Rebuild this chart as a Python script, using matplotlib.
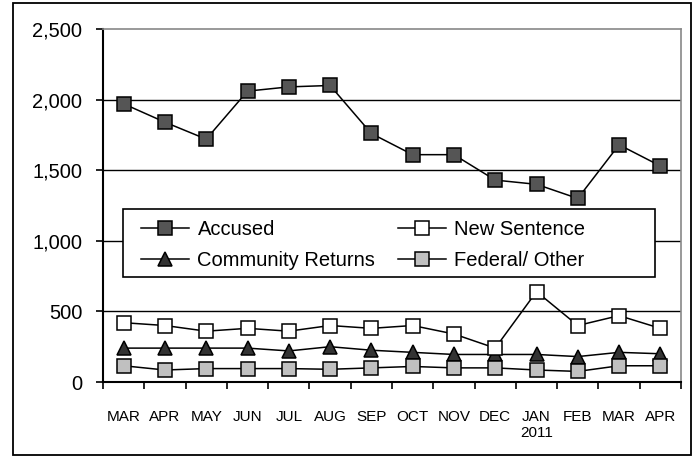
import matplotlib
matplotlib.use("Agg")
import matplotlib.pyplot as plt
from matplotlib.patches import Rectangle
import numpy as np

plt.rcParams['font.family'] = ['Liberation Sans', 'DejaVu Sans']

months = ["MAR", "APR", "MAY", "JUN", "JUL", "AUG", "SEP", "OCT", "NOV", "DEC",
          "JAN\n2011", "FEB", "MAR", "APR"]
accused = [1970, 1840, 1720, 2060, 2090, 2100, 1760, 1610, 1610, 1430, 1400, 1300, 1680, 1530]
new_sentence = [420, 400, 360, 380, 360, 400, 380, 400, 340, 240, 640, 400, 470, 380]
community_returns = [240, 240, 240, 240, 220, 250, 225, 210, 195, 195, 195, 180, 210, 200]
federal_other = [115, 85, 95, 95, 95, 90, 100, 110, 100, 100, 85, 75, 115, 115]
y_ticks = [0, 500, 1000, 1500, 2000, 2500]

W, H = 696, 457
fig = plt.figure(figsize=(W / 100, H / 100), dpi=100)
fig.patch.set_facecolor('white')
# outer border
fig.patches.append(Rectangle((13 / W, 2 / H), (691 - 13) / W, (454 - 2) / H,
                             transform=fig.transFigure, fill=False,
                             edgecolor='black', linewidth=1.3))

ax = fig.add_axes([103 / W, 1 - 382 / H, 578 / W, 353 / H])
x = np.arange(len(months))

line_kw = dict(color='black', linewidth=1.1, markersize=9.5,
               markeredgecolor='black', markeredgewidth=1.1, zorder=3)
ax.plot(x, accused, marker='s', markerfacecolor='#555555', label='Accused', **line_kw)
ax.plot(x, community_returns, marker='^', markerfacecolor='#333333',
        label='Community Returns', **{**line_kw, 'markersize': 10.5})
ax.plot(x, new_sentence, marker='s', markerfacecolor='white', label='New Sentence', **line_kw)
ax.plot(x, federal_other, marker='s', markerfacecolor='#c0c0c0', label='Federal/ Other', **line_kw)

ax.set_xlim(-0.5, len(months) - 0.5)
ax.set_ylim(0, 2500)
ax.set_yticks(y_ticks)
ax.set_yticklabels([f"{v:,}" for v in y_ticks])
ax.set_xticks(x)
ax.set_xticklabels(months)
ax.set_xticks(np.arange(-0.5, len(months)), minor=True)

ax.tick_params(axis='y', which='major', direction='out', length=5, width=1.2,
               pad=10, labelsize=14.5)
ax.tick_params(axis='x', which='major', length=0, pad=20, labelsize=11)
ax.tick_params(axis='x', which='minor', direction='out', length=5, width=1.2)

for v in y_ticks[1:-1]:
    ax.axhline(v, color='black', linewidth=1.0, zorder=1)

ax.spines['left'].set_linewidth(1.5)
ax.spines['bottom'].set_linewidth(1.5)
ax.spines['top'].set_color('#888888')
ax.spines['right'].set_color('#888888')
ax.spines['top'].set_linewidth(1.2)
ax.spines['right'].set_linewidth(1.2)

# legend frame
ax.add_patch(Rectangle((20 / 578, (382 - 277) / 353), (655 - 123) / 578, (277 - 209) / 353,
                       transform=ax.transAxes, facecolor='white', edgecolor='black',
                       linewidth=1.2, zorder=4))
leg = ax.legend(ncol=2, loc='upper left', bbox_to_anchor=(26 / 578, (382 - 208) / 353),
                frameon=False, fontsize=14.5, handlelength=2.4, handletextpad=0.4,
                columnspacing=1.1, labelspacing=0.6, borderpad=0.1)
leg.set_zorder(5)

fig.savefig('out.png', dpi=100, facecolor='white')
